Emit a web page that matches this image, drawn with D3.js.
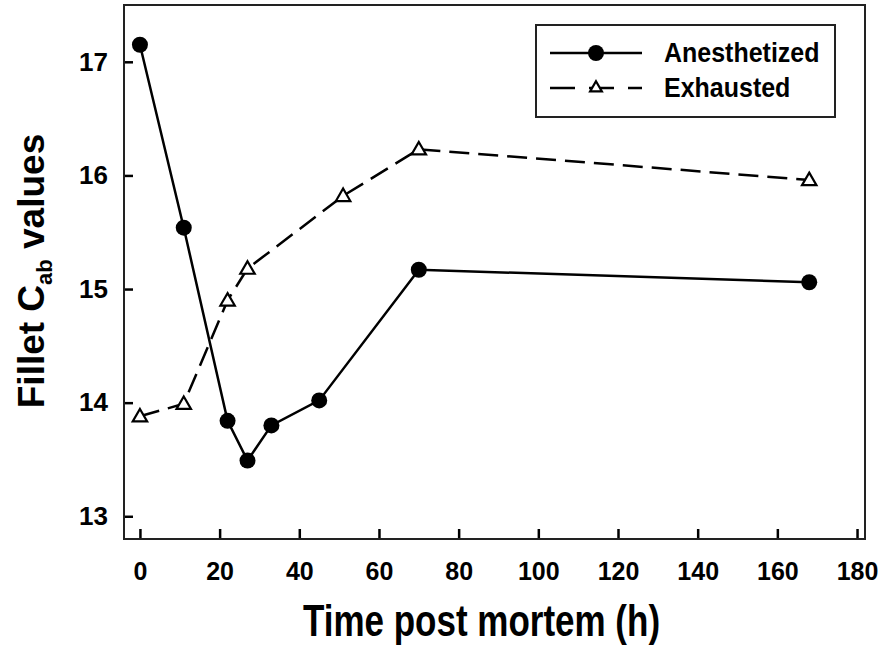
<!DOCTYPE html>
<html>
<head>
<meta charset="utf-8">
<script src="https://cdn.jsdelivr.net/npm/d3@7"></script>
<style>
  body { margin: 0; background: #fff; }
  text { font-family: Arial, 'Liberation Sans', sans-serif; font-weight: bold; fill: #000; }
</style>
</head>
<body>
<svg id="chart" width="882" height="647"></svg>
<script>
// values
const hoursAnesthetized = [0, 11, 22, 27, 33, 45, 70, 168]
const cabAnesthetized = [17.15, 15.54, 13.84, 13.49, 13.80, 14.02, 15.17, 15.06]
const hoursExhausted = [0, 11, 22, 27, 51, 70, 168]
const cabExhausted = [13.88, 13.99, 14.90, 15.18, 15.82, 16.23, 15.96]
const xTicks = [0, 20, 40, 60, 80, 100, 120, 140, 160, 180]
const yTicks = [13, 14, 15, 16, 17]
const seriesNames = ['Anesthetized', 'Exhausted']

const margin = { top: 5, right: 17, bottom: 108, left: 124 }
const width = 882 - margin.left - margin.right
const height = 647 - margin.top - margin.bottom

const svg = d3.select('#chart')
const g = svg.append('g')
  .attr('transform', 'translate(' + margin.left + ',' + margin.top + ')')

const x = d3.scaleLinear().domain([-4, 182]).range([0, width])
const y = d3.scaleLinear().domain([12.8, 17.5]).range([height, 0])

/**
 * @param xs
 * @param ys
 */
function zip (xs, ys) {
  return xs.map((d, i) => ({ t: d, v: ys[i] }))
}

const anes = zip(hoursAnesthetized, cabAnesthetized)
const exh = zip(hoursExhausted, cabExhausted)

// axes, ticks inside the frame
const xAxis = g.append('g')
  .attr('transform', 'translate(0,' + height + ')')
  .call(d3.axisBottom(x).tickValues(xTicks).tickSize(-10).tickPadding(23))
xAxis.select('.domain').remove()
xAxis.selectAll('line').attr('stroke-width', 2.5)
xAxis.selectAll('text').style('font-size', '25px')

const yAxis = g.append('g')
  .call(d3.axisLeft(y).tickValues(yTicks).tickFormat(d3.format('d')).tickSize(-9).tickPadding(16))
yAxis.select('.domain').remove()
yAxis.selectAll('line').attr('stroke-width', 2.5)
yAxis.selectAll('text').style('font-size', '26px')

g.append('rect')
  .attr('width', width)
  .attr('height', height)
  .attr('fill', 'none')
  .attr('stroke', '#222')
  .attr('stroke-width', 2)

const line = d3.line().x(d => x(d.t)).y(d => y(d.v))

g.append('path')
  .datum(exh)
  .attr('d', line)
  .attr('fill', 'none')
  .attr('stroke', '#000')
  .attr('stroke-width', 2.5)
  .attr('stroke-dasharray', '20,9')

g.append('path')
  .datum(anes)
  .attr('d', line)
  .attr('fill', 'none')
  .attr('stroke', '#000')
  .attr('stroke-width', 2.5)

const tri = d3.symbol().type(d3.symbolTriangle).size(90)

g.selectAll('.tri')
  .data(exh)
  .enter()
  .append('path')
  .attr('class', 'tri')
  .attr('d', tri)
  .attr('transform', d => 'translate(' + x(d.t) + ',' + (y(d.v) + 1) + ')')
  .attr('fill', '#fff')
  .attr('stroke', '#000')
  .attr('stroke-width', 2.2)

g.selectAll('.dot')
  .data(anes)
  .enter()
  .append('circle')
  .attr('class', 'dot')
  .attr('cx', d => x(d.t))
  .attr('cy', d => y(d.v))
  .attr('r', 8)
  .attr('fill', '#000')

// legend
const lg = svg.append('g').attr('transform', 'translate(536,25)')
lg.append('rect')
  .attr('width', 299)
  .attr('height', 92)
  .attr('fill', '#fff')
  .attr('stroke', '#222')
  .attr('stroke-width', 2)

lg.selectAll('.lgline')
  .data(seriesNames)
  .enter()
  .append('line')
  .attr('x1', 14)
  .attr('x2', 106)
  .attr('y1', (d, i) => 28 + i * 35)
  .attr('y2', (d, i) => 28 + i * 35)
  .attr('stroke', '#000')
  .attr('stroke-width', 2.5)
  .attr('stroke-dasharray', (d, i) => i === 0 ? null : '25,14')

lg.append('circle')
  .attr('cx', 60)
  .attr('cy', 28)
  .attr('r', 8)
  .attr('fill', '#000')

lg.append('path')
  .attr('d', d3.symbol().type(d3.symbolTriangle).size(60))
  .attr('transform', 'translate(60,63)')
  .attr('fill', '#fff')
  .attr('stroke', '#000')
  .attr('stroke-width', 2.2)

lg.selectAll('.lgtext')
  .data(seriesNames)
  .enter()
  .append('text')
  .attr('transform', (d, i) => 'translate(128,' + (37 + i * 35) + ') scale(1,1.1)')
  .style('font-size', '25px')
  .text(d => d)

// axis titles
svg.append('text')
  .attr('transform', 'translate(' + (margin.left + width / 2 - 13) + ',636) scale(1,1.25)')
  .attr('text-anchor', 'middle')
  .style('font-size', '35px')
  .text('Time post mortem (h)')

const yTitle = svg.append('text')
  .attr('transform', 'translate(44,' + 271 + ') rotate(-90)')
  .attr('text-anchor', 'middle')
  .style('font-size', '37px')
yTitle.append('tspan').text('Fillet C')
yTitle.append('tspan').attr('dy', 8).style('font-size', '22px').text('ab')
yTitle.append('tspan').attr('dy', -8).text(' values')
</script>
</body>
</html>
